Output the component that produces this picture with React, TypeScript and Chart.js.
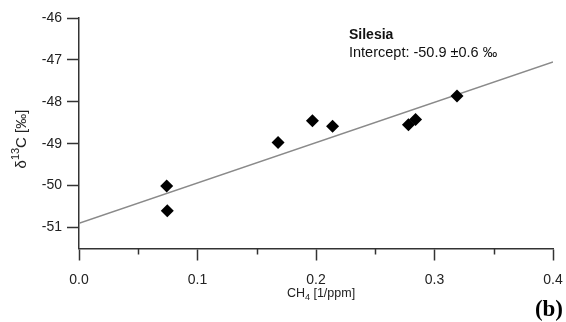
import React, { useEffect, useRef } from "react";
import { Chart, registerables } from "chart.js";
Chart.register(...registerables);

const pointsX = [0.074, 0.0745, 0.168, 0.197, 0.214, 0.278, 0.284, 0.319];
const pointsY = [-50.01, -50.6, -48.97, -48.45, -48.58, -48.55, -48.42, -47.86];
const fitX = [0, 0.4];
const fitY = [-50.9, -47.05];
const xTicks = [0, 0.1, 0.2, 0.3, 0.4];
const xMinorTicks = [0.05, 0.15, 0.25, 0.35];
const yTicks = [-51, -50, -49, -48, -47, -46];
const siteName = "Silesia";
const interceptText = "Intercept: -50.9 ±0.6 ‰";
const panelLabel = "(b)";

const SANS = "'Liberation Sans', Arial, sans-serif";
const AXIS = "#333333";

const textPlugin = {
  id: "texts",
  afterDraw(chart: any) {
    const ctx = chart.ctx as CanvasRenderingContext2D;
    const xs = chart.scales.x;
    const area = chart.chartArea;
    ctx.save();
    // minor ticks
    ctx.strokeStyle = AXIS;
    ctx.lineWidth = 1.5;
    for (const v of xMinorTicks) {
      const px = Math.round(xs.getPixelForValue(v)) + 0.5;
      ctx.beginPath();
      ctx.moveTo(px, area.bottom);
      ctx.lineTo(px, area.bottom + 6);
      ctx.stroke();
    }
    ctx.fillStyle = "#222";
    // y title
    ctx.save();
    ctx.translate(21, 139);
    ctx.rotate(-Math.PI / 2);
    ctx.textBaseline = "alphabetic";
    ctx.textAlign = "left";
    const ySegs = [
      { t: "δ", f: `15px ${SANS}`, dy: 0 },
      { t: "13", f: `11px ${SANS}`, dy: -7 },
      { t: "C [‰]", f: `15px ${SANS}`, dy: 0 },
    ];
    let tot = 0;
    for (const s of ySegs) { ctx.font = s.f; tot += ctx.measureText(s.t).width; }
    let cx = -tot / 2;
    for (const s of ySegs) {
      ctx.font = s.f;
      ctx.fillText(s.t, cx, 5 + s.dy);
      cx += ctx.measureText(s.t).width;
    }
    ctx.restore();
    // x title
    const xSegs = [
      { t: "CH", f: `12.5px ${SANS}`, dy: 0 },
      { t: "4", f: `9px ${SANS}`, dy: 3 },
      { t: " [1/ppm]", f: `12.5px ${SANS}`, dy: 0 },
    ];
    tot = 0;
    for (const s of xSegs) { ctx.font = s.f; tot += ctx.measureText(s.t).width; }
    cx = 321 - tot / 2;
    for (const s of xSegs) {
      ctx.font = s.f;
      ctx.fillText(s.t, cx, 296.5 + s.dy);
      cx += ctx.measureText(s.t).width;
    }
    // annotation
    ctx.fillStyle = "#111";
    ctx.textBaseline = "middle";
    ctx.font = `bold 14px ${SANS}`;
    ctx.fillText(siteName, 349, 35);
    ctx.font = `14.5px ${SANS}`;
    ctx.fillText(interceptText, 349, 53);
    // panel label
    ctx.fillStyle = "#000";
    ctx.textBaseline = "alphabetic";
    ctx.textAlign = "right";
    ctx.font = `bold 23px 'Liberation Serif', 'Times New Roman', serif`;
    ctx.fillText(panelLabel, 563, 316);
    ctx.restore();
  },
};

export default function App() {
  const ref = useRef<HTMLCanvasElement>(null);
  useEffect(() => {
    document.body.style.margin = "0";
    const canvas = ref.current!;
    const chart = new Chart(canvas, {
      type: "scatter",
      data: {
        datasets: [
          {
            type: "line",
            data: fitX.map((x, i) => ({ x, y: fitY[i] })),
            borderColor: "#8a8a8a",
            borderWidth: 1.5,
            pointRadius: 0,
            fill: false,
            order: 2,
          } as any,
          {
            type: "scatter",
            data: pointsX.map((x, i) => ({ x, y: pointsY[i] })),
            pointStyle: "rectRot",
            pointRadius: 6.5,
            backgroundColor: "#000",
            borderColor: "#000",
            borderWidth: 0,
            order: 1,
          },
        ],
      },
      options: {
        animation: false,
        responsive: false,
        devicePixelRatio: 1,
        layout: { padding: { top: 18, right: 13, left: 0, bottom: 0 } },
        plugins: { legend: { display: false }, tooltip: { enabled: false } },
        scales: {
          x: {
            type: "linear",
            min: 0,
            max: 0.4,
            afterBuildTicks: (s: any) => { s.ticks = xTicks.map((v) => ({ value: v })); },
            afterFit: (s: any) => {
              s.height = 322 - 248.5;
              s.paddingRight = 0;
              s.paddingLeft = 0;
            },
            ticks: {
              callback: (v: any) => Number(v).toFixed(1),
              font: { size: 14, family: SANS },
              color: "#222",
              padding: 11,
              maxRotation: 0,
            },
            grid: { drawOnChartArea: false, drawTicks: true, tickLength: 12, tickWidth: 1.5, tickColor: AXIS, color: AXIS },
            border: { display: true, color: AXIS, width: 1.5 },
          },
          y: {
            type: "linear",
            min: -51.5,
            max: -46,
            afterBuildTicks: (s: any) => { s.ticks = yTicks.map((v) => ({ value: v })); },
            afterFit: (s: any) => {
              s.width = 79;
              s.paddingTop = 0;
              s.paddingBottom = 0;
            },
            ticks: {
              callback: (v: any) => String(v),
              font: { size: 14, family: SANS },
              color: "#222",
              padding: 5,
            },
            grid: { drawOnChartArea: false, drawTicks: true, tickLength: 12, tickWidth: 1.5, tickColor: AXIS, color: AXIS },
            border: { display: true, color: AXIS, width: 1.5 },
          },
        },
      },
      plugins: [textPlugin],
    });
    return () => chart.destroy();
  }, []);
  return (
    <div style={{ position: "fixed", left: 0, top: 0, width: 566, height: 322, background: "#fff" }}>
      <canvas ref={ref} width={566} height={322} style={{ display: "block" }} />
    </div>
  );
}
